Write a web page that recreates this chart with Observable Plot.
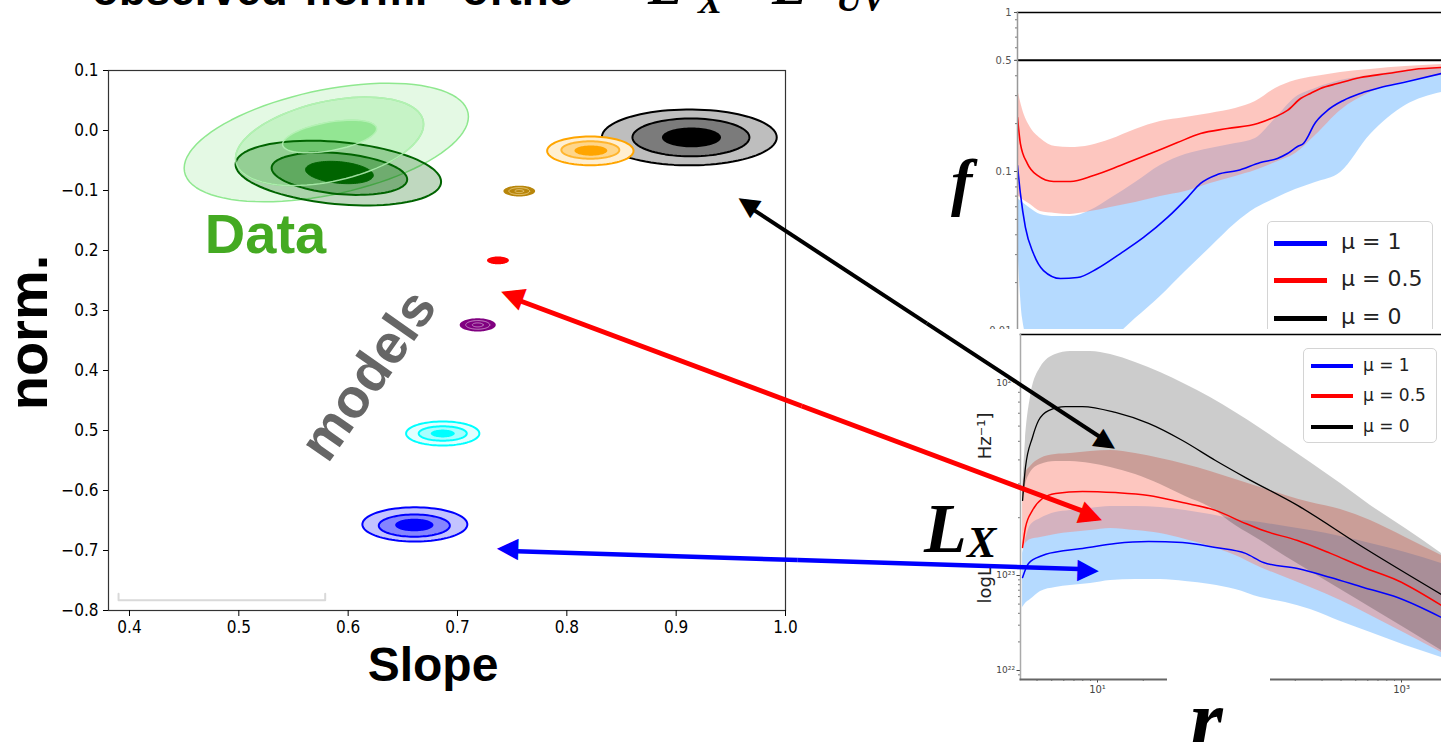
<!DOCTYPE html>
<html><head><meta charset="utf-8">
<script src="https://cdn.jsdelivr.net/npm/d3@7"></script>
<script src="https://cdn.jsdelivr.net/npm/@observablehq/plot@0.6"></script>
<style>
html,body{margin:0;padding:0;background:#fff;overflow:hidden;}
#wrap{position:relative;width:1441px;height:742px;overflow:hidden;background:#fff;}
.legend{position:absolute;background:#fff;border:1px solid #d4d4d4;border-radius:5px;box-sizing:border-box;font-family:"DejaVu Sans",sans-serif;color:#222;}
</style></head>
<body><div id="wrap"></div>
<script>
// ================= DATA =================
// ---- left chart: axes ----
const slopeTicks = [0.4,0.5,0.6,0.7,0.8,0.9,1.0];
const slopeTickLabels = ["0.4","0.5","0.6","0.7","0.8","0.9","1.0"];
const normTicks = [0.1,0,-0.1,-0.2,-0.3,-0.4,-0.5,-0.6,-0.7,-0.8];
const normTickLabels = ["0.1","0.0","−0.1","0.2","0.3","0.4","0.5","−0.6","−0.7","−0.8"];

// ---- left chart: contour levels (centre slope/norm, half-widths, tilt dNorm/dSlope) ----
const dataContours = [
  {id:"lg1", cx:0.580, cy:-0.020, rx:0.130, ry:0.089, k:0.33},
  {id:"lg2", cx:0.583, cy:-0.018, rx:0.086, ry:0.068, k:0.33},
  {id:"lg3", cx:0.583, cy:-0.010, rx:0.043, ry:0.024, k:0.30},
  {id:"dg1", cx:0.591, cy:-0.071, rx:0.094, ry:0.052, k:-0.154},
  {id:"dg2", cx:0.592, cy:-0.072, rx:0.062, ry:0.034, k:-0.154},
  {id:"dg3", cx:0.592, cy:-0.070, rx:0.031, ry:0.018, k:-0.154}
];
const modelContours = [
  {id:"bk1", cx:0.912,  cy:-0.0115, rx:0.080,  ry:0.0465, k:0},
  {id:"bk2", cx:0.9135, cy:-0.0115, rx:0.0535, ry:0.0315, k:0},
  {id:"bk3", cx:0.914,  cy:-0.0115, rx:0.027,  ry:0.0165, k:0},
  {id:"or1", cx:0.8215, cy:-0.034,  rx:0.0395, ry:0.024,  k:0},
  {id:"or2", cx:0.8215, cy:-0.0325, rx:0.0265, ry:0.0145, k:0},
  {id:"or3", cx:0.822,  cy:-0.0335, rx:0.015,  ry:0.0085, k:0},
  {id:"gd1", cx:0.7565, cy:-0.101,  rx:0.0145, ry:0.009,  k:0},
  {id:"gd2", cx:0.7565, cy:-0.101,  rx:0.0095, ry:0.0058, k:0},
  {id:"gd3", cx:0.7565, cy:-0.101,  rx:0.004,  ry:0.0025, k:0},
  {id:"rd1", cx:0.737,  cy:-0.2165, rx:0.010,  ry:0.0065, k:0},
  {id:"pu1", cx:0.7185, cy:-0.324,  rx:0.0165, ry:0.011,  k:0},
  {id:"pu2", cx:0.7185, cy:-0.324,  rx:0.011,  ry:0.0072, k:0},
  {id:"pu3", cx:0.7185, cy:-0.324,  rx:0.005,  ry:0.0033, k:0},
  {id:"cy1", cx:0.6865, cy:-0.505,  rx:0.0335, ry:0.020,  k:0},
  {id:"cy2", cx:0.6865, cy:-0.505,  rx:0.022,  ry:0.012,  k:0},
  {id:"cy3", cx:0.6865, cy:-0.505,  rx:0.011,  ry:0.0065, k:0},
  {id:"bl1", cx:0.661,  cy:-0.6565, rx:0.048,  ry:0.0285, k:0},
  {id:"bl2", cx:0.6605, cy:-0.6585, rx:0.0325, ry:0.0185, k:0},
  {id:"bl3", cx:0.6605, cy:-0.6575, rx:0.0175, ry:0.0105, k:0}
];
const annotations = [
  {text:"Data",   slope:0.5244, norm:-0.175},
  {text:"models", slope:0.6187, norm:-0.4083},
  {text:"norm.",  slope:0.3085, norm:-0.3367}
];
const bracketPts = [
  {slope:0.390, norm:-0.772},{slope:0.390, norm:-0.783},{slope:0.579, norm:-0.783},{slope:0.579, norm:-0.772}
];
// arrows between the two figures, in slope/norm units of the left chart
const arrowLinks = [
  {id:"black", s1:0.9563, n1:-0.115,  s2:1.3021, n2:-0.528},
  {id:"red",   s1:0.7394, n1:-0.2717, s2:1.2902, n2:-0.6467},
  {id:"blue",  s1:0.7358, n1:-0.700,  s2:1.2866, n2:-0.7317}
];

// ---- right top panel: f vs r (log10 values) ----
const topYTicks = [1,0.5,0.1,0.01];
const topYTickLabels = ["1","0.5","0.1","0.01"];
const topBlackF = 0.5; // mu = 0
const topGridLogR = [0.474,0.507,0.559,0.625,0.724,0.822,0.954,1.086,1.25,1.414,1.579,1.743,1.908,2.039,2.171,2.303,2.434,2.599,2.796,3.026,3.263];
const topRedHiLogF  = [-0.478,-0.610,-0.723,-0.792,-0.843,-0.849,-0.836,-0.799,-0.736,-0.686,-0.660,-0.635,-0.604,-0.560,-0.478,-0.428,-0.403,-0.377,-0.358,-0.340,-0.327];
const topRedLoLogF  = [-1.151,-1.176,-1.208,-1.252,-1.264,-1.270,-1.252,-1.226,-1.195,-1.157,-1.126,-1.075,-1.031,-0.994,-0.943,-0.887,-0.774,-0.616,-0.503,-0.434,-0.396];
const topBlueHiLogF = [-1.170,-1.195,-1.233,-1.270,-1.283,-1.283,-1.245,-1.170,-1.069,-0.962,-0.893,-0.855,-0.824,-0.792,-0.667,-0.535,-0.478,-0.428,-0.396,-0.365,-0.346];
const topBlueLoLogF = [-1.434,-1.925,-2.094,-2.094,-2.094,-2.094,-2.094,-2.057,-1.925,-1.786,-1.629,-1.478,-1.327,-1.233,-1.170,-1.113,-1.069,-1.006,-0.767,-0.585,-0.503];
const topRedLineLogR = [0.474,0.493,0.539,0.605,0.711,0.822,0.974,1.151,1.349,1.526,1.678,1.855,2.053,2.158,2.250,2.336,2.401,2.467,2.579,2.730,2.908,3.079,3.263];
const topRedLineLogF = [-0.660,-0.824,-0.950,-1.025,-1.063,-1.063,-1.025,-0.962,-0.887,-0.818,-0.761,-0.730,-0.698,-0.660,-0.616,-0.541,-0.509,-0.478,-0.447,-0.409,-0.384,-0.358,-0.346];
const topBlueLineLogR = [0.474,0.493,0.526,0.579,0.645,0.757,0.868,1.0,1.151,1.303,1.461,1.592,1.678,1.789,1.921,2.072,2.184,2.250,2.316,2.355,2.388,2.421,2.513,2.618,2.730,2.862,3.013,3.263];
const topBlueLineLogF = [-0.962,-1.138,-1.352,-1.516,-1.623,-1.673,-1.667,-1.610,-1.516,-1.415,-1.289,-1.164,-1.075,-1.019,-0.994,-0.943,-0.918,-0.887,-0.843,-0.824,-0.774,-0.711,-0.616,-0.553,-0.509,-0.472,-0.440,-0.384];

// ---- right bottom panel: logL_X vs r ----
const lowYTicks = [22,23,24];
const lowYTickLabels = ["10²²","10²³","10²⁴"];
const lowXTicks = [10,1000];
const lowXTickLabels = ["10¹","10³"];
const lowGridLogR = [0.507,0.526,0.559,0.625,0.724,0.822,0.954,1.086,1.25,1.414,1.579,1.743,1.908,2.072,2.237,2.401,2.599,2.796,3.026,3.263];
const lowGrayHi = [23.443,23.703,23.927,24.083,24.151,24.167,24.167,24.151,24.109,24.057,23.995,23.927,23.849,23.766,23.677,23.589,23.479,23.365,23.245,23.115];
const lowGrayLo = [23.391,23.469,23.536,23.578,23.594,23.594,23.583,23.563,23.526,23.474,23.411,23.354,23.260,23.182,23.099,23.021,22.853,22.663,22.442,22.211];
const lowRedHi  = [23.443,23.531,23.568,23.609,23.630,23.635,23.646,23.651,23.635,23.609,23.578,23.542,23.500,23.458,23.417,23.380,23.344,23.286,23.198,23.104];
const lowRedLo  = [23.146,23.167,23.188,23.198,23.214,23.224,23.234,23.245,23.234,23.219,23.188,23.151,23.104,23.042,22.979,22.874,22.737,22.579,22.389,22.189];
const lowBlueHi = [23.115,23.182,23.260,23.297,23.328,23.339,23.349,23.359,23.359,23.354,23.339,23.318,23.292,23.276,23.255,23.234,23.203,23.167,23.120,23.063];
const lowBlueLo = [22.663,22.705,22.747,22.832,22.874,22.895,22.916,22.947,22.958,22.958,22.937,22.905,22.853,22.768,22.716,22.642,22.516,22.400,22.263,22.137];
const lowBlackLogR = [0.507,0.526,0.572,0.612,0.678,0.789,0.901,1.118,1.336,1.559,1.776,1.974,2.316,2.750,3.263];
const lowBlackL    = [23.391,23.563,23.719,23.807,23.859,23.880,23.880,23.849,23.792,23.703,23.599,23.510,23.365,23.146,22.800];
const lowRedLogR = [0.507,0.526,0.572,0.638,0.724,0.901,1.118,1.336,1.559,1.776,1.974,2.092,2.316,2.533,2.750,2.974,3.263];
const lowRedL    = [23.146,23.250,23.339,23.401,23.427,23.438,23.432,23.417,23.380,23.339,23.271,23.234,23.182,23.115,23.042,22.947,22.684];
const lowBlueLogR = [0.507,0.546,0.638,0.789,0.901,1.118,1.336,1.559,1.776,1.974,2.092,2.316,2.533,2.750,2.974,3.263];
const lowBlueL    = [22.979,23.063,23.104,23.130,23.141,23.167,23.177,23.172,23.146,23.115,23.068,23.036,22.979,22.874,22.768,22.558];

const legendLabels = ["μ = 1","μ = 0.5","μ = 0"];

// ================= STYLES =================
const contourStyle = {
  lg1:{fill:"#e4f9e4", stroke:"#8fe88f", sw:1.5},
  lg2:{fill:"#c6f3c6", stroke:"#8fe88f", sw:1.5},
  lg3:{fill:"#93e693", stroke:"#8fe88f", sw:1},
  dg1:{fill:"#006400", fo:0.25, stroke:"#006400", sw:2},
  dg2:{fill:"#006400", fo:0.35, stroke:"#006400", sw:2},
  dg3:{fill:"#006400", stroke:"#006400", sw:1},
  bk1:{fill:"#bebebe", stroke:"#000", sw:2},
  bk2:{fill:"#7b7b7b", stroke:"#000", sw:2},
  bk3:{fill:"#000000"},
  or1:{fill:"#ffefd2", stroke:"#ffa500", sw:2},
  or2:{fill:"#ffd68a", stroke:"#ffb52e", sw:2},
  or3:{fill:"#ffa500"},
  gd1:{fill:"#b8860b"},
  gd2:{fill:"none", stroke:"#e8c97c", sw:1},
  gd3:{fill:"none", stroke:"#e8c97c", sw:1},
  rd1:{fill:"#ff0000"},
  pu1:{fill:"#800080"},
  pu2:{fill:"none", stroke:"#c890c8", sw:1},
  pu3:{fill:"none", stroke:"#c890c8", sw:1},
  cy1:{fill:"#e2ffff", stroke:"#00ffff", sw:2},
  cy2:{fill:"#a8ffff", stroke:"#00ffff", sw:2},
  cy3:{fill:"#00ffff"},
  bl1:{fill:"#c3c3ff", stroke:"#0000ff", sw:2},
  bl2:{fill:"#8585ff", stroke:"#0000ff", sw:2},
  bl3:{fill:"#0000ff"}
};
const arrowStyle = {black:{stroke:"#000", sw:4, head:27}, red:{stroke:"#ff0000", sw:5, head:30}, blue:{stroke:"#0000ff", sw:4.5, head:28}};
const legendColors = ["#0000ff","#ff0000","#000000"];
const SANS = "'Liberation Sans', Arial, sans-serif";
const TICKFONT = "'DejaVu Sans Condensed','DejaVu Sans',sans-serif";

// ================= BUILD =================
const W = document.getElementById("wrap");
function place(el, left, top, z){
  el.style.position = "absolute"; el.style.left = left + "px"; el.style.top = top + "px"; el.style.zIndex = z;
  W.appendChild(el); return el;
}
function ring(c, n = 90){
  const pts = [];
  for (let i = 0; i < n; i++){
    const t = 2 * Math.PI * i / n;
    pts.push({slope: c.cx + c.rx * Math.cos(t), norm: c.cy + c.ry * Math.sin(t) + c.k * c.rx * Math.cos(t)});
  }
  return pts;
}
function contourMark(c, override){
  const st = Object.assign({}, contourStyle[c.id], override || {});
  return Plot.line(ring(c), {x:"slope", y:"norm", curve:"linear-closed",
    fill: st.fill, fillOpacity: st.fo ?? 1, stroke: st.stroke ?? "none", strokeWidth: st.sw ?? 0, strokeOpacity: st.so ?? 1});
}
const zip = (rs, vs, key) => rs.map((lr, i) => ({r: 10 ** lr, [key]: vs[i]}));

// ---------- top right panel (f) ----------
const topBand = (hi, lo) => topGridLogR.map((lr, i) => ({r: 10 ** lr, hi: 10 ** hi[i], lo: 10 ** lo[i]}));
const topYMinor = [];
for (const b of [0.01, 0.1]) for (let k = 2; k <= 9; k++) topYMinor.push(b * k);
const topPlot = Plot.plot({
  width: 481, height: 340, marginLeft: 57, marginRight: 0, marginTop: 12, marginBottom: 10,
  x: {type: "log", domain: [10 ** 0.474, 10 ** 3.263], axis: null},
  y: {type: "log", domain: [0.01, 1]},
  style: {background: "#fff", fontFamily: "'DejaVu Sans',sans-serif", overflow: "hidden"},
  marks: [
    Plot.areaY(topBand(topBlueHiLogF, topBlueLoLogF), {x: "r", y1: "lo", y2: "hi", fill: "#1e90ff", fillOpacity: 0.33, curve: "monotone-x", clip: true}),
    Plot.areaY(topBand(topRedHiLogF, topRedLoLogF), {x: "r", y1: "lo", y2: "hi", fill: "#fa8072", fillOpacity: 0.45, curve: "monotone-x", clip: true}),
    Plot.line(topBlueLineLogR.map((lr, i) => ({r: 10 ** lr, f: 10 ** topBlueLineLogF[i]})), {x: "r", y: "f", stroke: "#0000ff", strokeWidth: 1.6, curve: "monotone-x", clip: true}),
    Plot.line(topRedLineLogR.map((lr, i) => ({r: 10 ** lr, f: 10 ** topRedLineLogF[i]})), {x: "r", y: "f", stroke: "#ff0000", strokeWidth: 1.6, curve: "monotone-x", clip: true}),
    Plot.ruleY([topBlackF], {stroke: "#000", strokeWidth: 2}),
    Plot.axisY({ticks: topYMinor, tickFormat: () => "", tickSize: 2, color: "#777", label: null}),
    Plot.axisY({ticks: topYTicks, tickFormat: d => topYTickLabels[topYTicks.indexOf(d)], tickSize: 3, tickPadding: 3, fontSize: 10, color: "#555", label: null}),
    Plot.frame({anchor: "top", stroke: "#000", strokeWidth: 1.5}),
    Plot.frame({anchor: "left", stroke: "#999", strokeWidth: 1.5})
  ]
});
place(topPlot, 960, 0, 1);

// legends (HTML)
function legend(left, top, w, h, rowYs, lineX, lineW, lineH, textX, fs, z){
  const box = document.createElement("div");
  box.className = "legend"; box.style.width = w + "px"; box.style.height = h + "px";
  legendLabels.forEach((lab, i) => {
    const ln = document.createElement("div");
    ln.style.cssText = `position:absolute;left:${lineX}px;top:${rowYs[i] - lineH / 2}px;width:${lineW}px;height:${lineH}px;background:${legendColors[i]}`;
    box.appendChild(ln);
    const tx = document.createElement("div");
    tx.textContent = lab;
    tx.style.cssText = `position:absolute;left:${textX}px;top:${rowYs[i] - fs * 0.62}px;font-size:${fs}px;line-height:${fs * 1.2}px;white-space:nowrap`;
    box.appendChild(tx);
  });
  place(box, left, top, z);
}
legend(1267, 221, 166, 140, [21, 58, 96], 6, 53, 5, 73, 22, 2);

// ---------- bottom right panel (L_X) ----------
const lowBandRows = (hi, lo) => lowGridLogR.map((lr, i) => ({r: 10 ** lr, hi: hi[i], lo: lo[i]}));
const lowYMinor = [];
for (const n of [21, 22, 23, 24]) for (let k = 2; k <= 9; k++) { const v = n + Math.log10(k); if (v > 21.91 && v < 24.25) lowYMinor.push(v); }
const lowXMinor = [];
for (const b of [1, 10, 100]) for (let k = 2; k <= 9; k++) { const v = b * k; if (v > 3.12) lowXMinor.push(v); }
const lowPlot = Plot.plot({
  width: 481, height: 413, marginLeft: 60, marginRight: 0, marginTop: 5, marginBottom: 63,
  x: {type: "log", domain: [10 ** 0.4934, 10 ** 3.263]},
  y: {type: "linear", domain: [22, 23, 24], range: [341, 246, 54]},
  style: {background: "#fff", fontFamily: "'DejaVu Sans',sans-serif", overflow: "hidden"},
  marks: [
    Plot.areaY(lowBandRows(lowBlueHi, lowBlueLo), {x: "r", y1: "lo", y2: "hi", fill: "#1e90ff", fillOpacity: 0.33, curve: "monotone-x", clip: true}),
    Plot.areaY(lowBandRows(lowRedHi, lowRedLo), {x: "r", y1: "lo", y2: "hi", fill: "#fa8072", fillOpacity: 0.45, curve: "monotone-x", clip: true}),
    Plot.areaY(lowBandRows(lowGrayHi, lowGrayLo), {x: "r", y1: "lo", y2: "hi", fill: "#000", fillOpacity: 0.2, curve: "monotone-x", clip: true}),
    Plot.line(zip(lowBlueLogR, lowBlueL, "L"), {x: "r", y: "L", stroke: "#0000ff", strokeWidth: 1.5, curve: "monotone-x", clip: true}),
    Plot.line(zip(lowRedLogR, lowRedL, "L"), {x: "r", y: "L", stroke: "#ff0000", strokeWidth: 1.5, curve: "monotone-x", clip: true}),
    Plot.line(zip(lowBlackLogR, lowBlackL, "L"), {x: "r", y: "L", stroke: "#000", strokeWidth: 1.3, curve: "monotone-x", clip: true}),
    Plot.axisY({ticks: lowYMinor, tickFormat: () => "", tickSize: 2, color: "#777", label: null}),
    Plot.axisY({ticks: lowYTicks, tickFormat: d => lowYTickLabels[lowYTicks.indexOf(d)], tickSize: 3.5, tickPadding: 2, fontSize: 9, color: "#444", label: null}),
    Plot.axisX({ticks: lowXMinor, tickFormat: () => "", tickSize: 2, color: "#777", label: null}),
    Plot.axisX({ticks: lowXTicks, tickFormat: d => lowXTickLabels[lowXTicks.indexOf(d)], tickSize: 3.5, tickPadding: 3, fontSize: 10, color: "#444", label: null}),
    Plot.frame({anchor: "top", stroke: "#000", strokeWidth: 1.5}),
    Plot.frame({anchor: "left", stroke: "#aaa", strokeWidth: 1.5}),
    Plot.frame({anchor: "bottom", stroke: "#666", strokeWidth: 2}),
    Plot.text(["logL"], {text: d => d, frameAnchor: "top-left", dx: -42, dy: 269, rotate: -90, textAnchor: "start", fontSize: 18, fill: "#222"}),
    Plot.text(["Hz⁻¹]"], {text: d => d, frameAnchor: "top-left", dx: -42, dy: 78, rotate: -90, textAnchor: "end", fontSize: 18, fill: "#222"})
  ]
});
place(lowPlot, 960, 329, 3);
legend(1303, 348, 134, 95, [17, 47, 78], 7, 42, 4, 59, 17, 4);
const gap = document.createElement("div");
gap.style.cssText = "width:103px;height:24px;background:#fff";
place(gap, 1167, 675, 4);

// ---------- overlay labels (f, L_X, r, cut title) ----------
const SERIF = "'Liberation Serif','DejaVu Serif',serif";
const ov = d3.create("svg").attr("width", 1441).attr("height", 742).style("pointer-events", "none").style("overflow", "hidden");
ov.append("rect").attr("x", 924).attr("y", 462).attr("width", 76).attr("height", 96).attr("fill", "#fff");
function mathText(t, x, y, size){
  ov.append("text").attr("x", x).attr("y", y).attr("font-family", SERIF).attr("font-style", "italic")
    .attr("font-weight", "bold").attr("font-size", size).attr("fill", "#000").text(t);
}
mathText("L", 924, 552, 70); mathText("X", 967, 557, 44);
mathText("f", 951, 203, 64);
mathText("r", 1190, 748, 84);
const title = ov.append("text").attr("font-weight", "bold").attr("fill", "#000");
[["observed", 92], ["norm.", 305], ["of", 462], ["the", 507]].forEach(([t, x]) =>
  title.append("tspan").attr("x", x).attr("y", 5).attr("font-family", SANS).attr("font-size", 44).text(t));
[["L", 648, 4, 56], ["X", 698, 13, 36], ["−", 740, 4, 44], ["L", 772, 4, 56], ["UV", 836, 11, 36]].forEach(([t, x, y, s]) =>
  title.append("tspan").attr("x", x).attr("y", y).attr("font-family", SERIF).attr("font-style", "italic").attr("font-size", s).text(t));
place(ov.node(), 0, 0, 5);

// ---------- left chart (with the arrows) ----------
const X_PX = 677 / (1.0 - 0.3808), Y_PX = 540 / 0.9;   // pixels per unit of the left chart's scales
const arrowShafts = [], arrowTips = [];
for (const a of arrowLinks){
  const ms = (a.s1 + a.s2) / 2, mn = (a.n1 + a.n2) / 2;
  for (const [s, n] of [[a.s1, a.n1], [a.s2, a.n2]]){
    const ang = Math.atan2(-(n - mn) * Y_PX, (s - ms) * X_PX) * 180 / Math.PI;
    arrowShafts.push({id: a.id, x1: ms, y1: mn, x2: s, y2: n});
    arrowTips.push({id: a.id, x: s, y: n, ang});
  }
}
const leftMarks = [];
for (const c of dataContours) leftMarks.push(contourMark(c));
// light green contour lines visible through the darker data contours
leftMarks.push(contourMark(dataContours[1], {fill: "none", stroke: "#b9f2b9", sw: 1.5, so: 0.85}));
leftMarks.push(contourMark(dataContours[2], {fill: "none", stroke: "#b9f2b9", sw: 1.5, so: 0.85}));
for (const c of modelContours) leftMarks.push(contourMark(c));
leftMarks.push(
  Plot.line(bracketPts, {x: "slope", y: "norm", stroke: "#d9d9d9", strokeWidth: 2}),
  Plot.frame({stroke: "#333", strokeWidth: 1.2}),
  Plot.axisY({ticks: normTicks, tickFormat: d => normTickLabels[normTicks.indexOf(d)], tickSize: 5, tickPadding: 5, fontSize: 17, fontFamily: TICKFONT, label: null}),
  Plot.axisX({ticks: slopeTicks, tickFormat: d => slopeTickLabels[slopeTicks.indexOf(d)], tickSize: 6, tickPadding: 4, fontSize: 17, fontFamily: TICKFONT, label: null}),
  Plot.text(annotations.slice(2, 3), {x: "slope", y: "norm", text: "text", rotate: -90, fontSize: 56, fontWeight: "bold", fontFamily: SANS, fill: "#000"}),
  Plot.text(["Slope"], {text: d => d, frameAnchor: "bottom", dx: -14, dy: 70, fontSize: 48, fontWeight: "bold", fontFamily: SANS, fill: "#000"}),
  Plot.text(annotations.slice(0, 1), {x: "slope", y: "norm", text: "text", fontSize: 56, fontWeight: "bold", fontFamily: SANS, fill: "#44aa22"}),
  Plot.text(annotations.slice(1, 2), {x: "slope", y: "norm", text: "text", rotate: -55, fontSize: 55, fontWeight: "bold", fontFamily: SANS, fill: "#666666"})
);
for (const id of ["black", "red", "blue"]){
  const st = arrowStyle[id];
  leftMarks.push(Plot.arrow(arrowShafts.filter(d => d.id === id), {x1: "x1", y1: "y1", x2: "x2", y2: "y2",
    stroke: st.stroke, strokeWidth: st.sw, headLength: 0, insetEnd: 12, strokeLinecap: "butt"}));
  leftMarks.push(Plot.text(arrowTips.filter(d => d.id === id), {x: "x", y: "y", text: () => "▶", rotate: "ang",
    textAnchor: "end", lineAnchor: "middle", fontSize: st.head, fill: st.stroke, fontFamily: "'DejaVu Sans',sans-serif"}));
}
const leftPlot = Plot.plot({
  width: 1441, height: 742, marginLeft: 108, marginRight: 656, marginTop: 70, marginBottom: 132,
  x: {domain: [0.3808, 1.0]},
  y: {domain: [-0.8, 0.1]},
  style: {background: "transparent", overflow: "visible", fontFamily: TICKFONT, color: "#000"},
  marks: leftMarks
});
leftPlot.style.pointerEvents = "none";
place(leftPlot, 0, 0, 6);
</script>
</body></html>
